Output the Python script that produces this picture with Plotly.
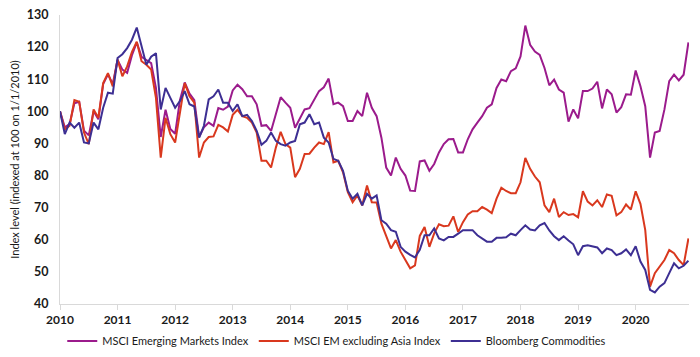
import plotly.graph_objects as go

# Monthly index levels, Jan 2010 .. Dec 2020 (indexed at 100 on 1/1/2010)
msci_em = [
    100, 95, 96, 102.5, 103, 94, 92.5, 100, 97.5, 108.5, 111.5, 108.5,
    116, 113, 112, 117.5, 121.5, 117, 116, 115, 107.3, 92, 100.5, 94.5,
    93, 103.5, 109, 105.5, 103.5, 92, 95, 96.5, 95.5, 101, 100.5, 101.5,
    106.5, 108.3, 106.9, 104.7, 104.7, 102.2, 95.5, 95.7, 93.9, 99.6, 104.4, 102.7,
    101.1, 94.9, 98, 100.6, 101, 103.7, 106.3, 107.5, 110.2, 102.2, 102.7, 101.6,
    97, 97, 100.1, 98.5, 105.8, 101.1, 98.5, 91.8, 82.5, 80, 85.6, 82.1,
    80, 75.3, 75.2, 84.4, 84.7, 81.5, 83.6, 87.2, 89.8, 91.3, 91.4, 87.2,
    87.2, 91.3, 94.4, 96.5, 98.5, 101.1, 102.2, 107.3, 109.9, 109.4, 112.5, 113.4,
    117.1, 126.7, 120.7, 118.6, 117.6, 113.5, 108.1, 109.9, 106.8, 105.8, 96.8, 100.6,
    97.8, 106.3, 106.3, 107.1, 109.2, 100.9, 106.8, 105.3, 99.6, 101.3, 105.3, 105.2,
    112.7, 107.8, 101.6, 85.6, 93.4, 93.9, 100.6, 109.4, 111.4, 109.6, 111.4, 121.5,
]
msci_em_ex_asia = [
    100, 94.4, 95.5, 103.5, 103, 93.4, 89.8, 100.6, 98, 108.8, 111.9, 107.8,
    116.1, 110.9, 114, 118.5, 121.7, 115.6, 114.5, 113, 104.2, 85.6, 98, 92.9,
    90.3, 100.1, 108.8, 104.7, 102.7, 85.6, 90.3, 92, 92.2, 95.8, 95, 93.7,
    98.9, 100.5, 98.5, 98, 96.5, 93.4, 84.6, 84.6, 82.5, 88.7, 93.6, 89.8,
    88.7, 79.5, 82.1, 86.7, 86.8, 88.7, 90.3, 89.8, 93.5, 84.1, 84.6, 81,
    74.8, 71.7, 73.8, 70.7, 76.9, 71.7, 71.6, 65, 60.9, 57.3, 59.9, 56.3,
    53.7, 51.1, 52, 61.2, 64, 57.8, 62, 64.8, 64.2, 64.4, 67.3, 62.4,
    65.5, 67.9, 68.9, 68.9, 70.2, 69.4, 68.3, 72.8, 76.2, 75.2, 74.5, 74.5,
    77.9, 85.5, 82.1, 79.7, 77.9, 70.7, 68.6, 72.8, 67.1, 68.6, 67.7, 68,
    67, 75.1, 71.9, 70.7, 72.3, 70.2, 74.1, 73.7, 67.6, 68.6, 71, 69.4,
    75.1, 71.2, 63, 45.4, 49.6, 51.6, 53.7, 56.8, 55.8, 53.7, 52.1, 60.4,
]
bloomberg_commodities = [
    100, 92.9, 96.5, 94.9, 96.5, 90.3, 90, 96.5, 94.4, 101.1, 105.8, 105.5,
    116.6, 117.8, 119.7, 122.3, 126.1, 120.7, 114.5, 117, 118.1, 100.6, 107.3, 104.2,
    101.1, 103.2, 106.3, 102.2, 101.5, 91.8, 95.5, 103.7, 104.7, 106.8, 102.7, 102.7,
    100.1, 102.2, 98.5, 98.9, 97, 93.9, 89.6, 90.8, 93.4, 90.8, 89.8, 89.3,
    90.3, 90.8, 96, 96.5, 99.1, 96, 96.5, 91.8, 90.3, 85.2, 84.6, 81.5,
    75.3, 72.8, 74.3, 70.7, 74.3, 72.8, 73.8, 66.1, 65, 63, 62.5, 57.8,
    56.3, 55.3, 54.5, 56.9, 61.4, 61.4, 63.5, 60.4, 59.8, 60.9, 60.9, 61.9,
    63, 63, 63, 61.4, 60.4, 59.4, 59.4, 60.6, 60.6, 60.8, 61.9, 61.4,
    63, 64.5, 63.2, 62.9, 64.5, 65.2, 62.9, 61.1, 59.9, 61.1, 59.8, 58.6,
    55.2, 58, 58.3, 58, 57.6, 55.8, 57.3, 56.8, 55.2, 55.8, 57, 55.2,
    58, 53.2, 50.6, 44.4, 43.6, 45.4, 46.5, 49.6, 52.7, 51.1, 51.9, 53.5,
]
series_names = ["MSCI Emerging Markets Index", "MSCI EM excluding Asia Index", "Bloomberg Commodities"]
year_ticks = list(range(2010, 2021))
y_ticks = list(range(40, 131, 10))

months = [2010 + i / 12 for i in range(len(msci_em))]
colors = ["#9b1b8c", "#d9381e", "#3d2f93"]
FONT = "Lato"

fig = go.Figure()
for name, vals, col in zip(series_names, [msci_em, msci_em_ex_asia, bloomberg_commodities], colors):
    fig.add_trace(go.Scatter(x=months, y=vals, mode="lines", name=name,
                             line=dict(color=col, width=2), cliponaxis=False))

# page body has an 8px margin, so the figure is sized to fit inside the window
fig.update_layout(
    width=684, height=341,
    margin=dict(l=52, r=3, t=7, b=45, autoexpand=False),
    paper_bgcolor="white", plot_bgcolor="white",
    font=dict(family=FONT, size=12, color="#1a1a1a"),
    showlegend=True,
    legend=dict(orientation="h", x=0.44, xanchor="center", y=-0.128, yanchor="middle",
                font=dict(family=FONT, size=11, color="#1a1a1a"),
                itemwidth=30, tracegroupgap=0),
)
fig.update_xaxes(
    range=[2010, months[-1] + 0.01], tickmode="array", tickvals=year_ticks,
    ticktext=[str(y) for y in year_ticks], automargin=False, ticklabeloverflow="allow",
    showgrid=False, zeroline=False, showline=True, linecolor="#d9d9d9", linewidth=1,
    ticks="outside", ticklen=5, tickcolor="#d9d9d9",
    tickfont=dict(family=FONT, size=12, color="#1a1a1a", weight="bold"),
)
fig.update_yaxes(
    range=[40, 130], tickmode="array", tickvals=y_ticks, automargin=False,
    ticklabeloverflow="allow",
    showgrid=False, zeroline=False, showline=True, linecolor="#d9d9d9", linewidth=1,
    ticks="", ticklabelstandoff=8,
    tickfont=dict(family=FONT, size=12.5, color="#1a1a1a", weight="bold"),
    title=dict(text="Index level (indexed at 100 on 1/1/2010)", standoff=5,
               font=dict(family=FONT, size=11, color="#1a1a1a")),
)

fig.write_html("out.html")
